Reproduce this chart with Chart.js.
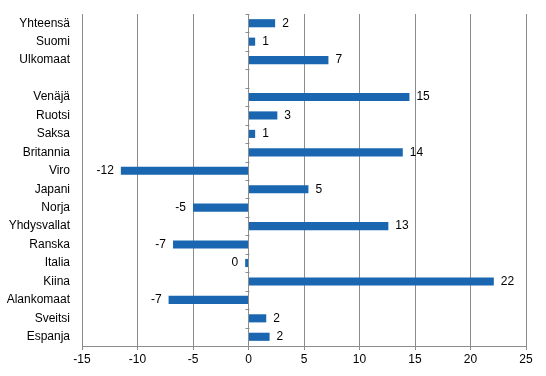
<!DOCTYPE html>
<html>
<head>
<meta charset="utf-8">
<script src="https://cdn.jsdelivr.net/npm/chart.js@4/dist/chart.umd.min.js"></script>
<style>
  html, body { margin: 0; padding: 0; background: #fff; }
  #wrap { width: 546px; height: 376px; }
</style>
</head>
<body>
<div id="wrap"><canvas id="muutos"></canvas></div>
<script>
// categories, top to bottom (empty row separates the totals from the countries)
var maat = ['Yhteensä', 'Suomi', 'Ulkomaat', '', 'Venäjä', 'Ruotsi', 'Saksa', 'Britannia', 'Viro',
  'Japani', 'Norja', 'Yhdysvallat', 'Ranska', 'Italia', 'Kiina', 'Alankomaat', 'Sveitsi', 'Espanja'];
// change, % (bar lengths)
var muutos = [2.4, 0.6, 7.2, null, 14.5, 2.6, 0.6, 13.9, -11.5,
  5.4, -5.0, 12.6, -6.8, -0.3, 22.1, -7.2, 1.6, 1.9];
// value labels as printed next to the bars
var merkit = ['2', '1', '7', '', '15', '3', '1', '14', '-12',
  '5', '-5', '13', '-7', '0', '22', '-7', '2', '2'];
var xTicks = { min: -15, max: 25, step: 5 };

var gridGray = '#8c8c8c';

// value labels beside the bar ends
var arvoMerkit = {
  id: 'arvoMerkit',
  afterDatasetsDraw: function(chart) {
    var ctx = chart.ctx;
    var meta = chart.getDatasetMeta(0);
    ctx.save();
    ctx.font = '12px "Liberation Sans", Arial, sans-serif';
    ctx.fillStyle = '#000';
    ctx.textBaseline = 'middle';
    meta.data.forEach(function(bar, i) {
      var v = muutos[i];
      if (v === null) return;
      if (v >= 0) {
        ctx.textAlign = 'left';
        ctx.fillText(merkit[i], bar.x + 7, bar.y);
      } else {
        ctx.textAlign = 'right';
        ctx.fillText(merkit[i], bar.x - 7, bar.y);
      }
    });
    ctx.restore();
  }
};

// little tick marks on the zero axis between categories
var nollaAkseli = {
  id: 'nollaAkseli',
  afterDraw: function(chart) {
    var ctx = chart.ctx;
    var x0 = Math.round(chart.scales.x.getPixelForValue(0)) + 0.5;
    var ys = chart.scales.y;
    ctx.save();
    ctx.strokeStyle = gridGray;
    ctx.lineWidth = 1;
    ctx.beginPath();
    for (var i = 0; i <= maat.length; i++) {
      var y = Math.round(ys.getPixelForValue(i - 0.5)) + 0.5;
      ctx.moveTo(x0 - 4, y);
      ctx.lineTo(x0, y);
    }
    ctx.stroke();
    ctx.restore();
  }
};

Chart.defaults.font.family = '"Liberation Sans", Arial, sans-serif';
Chart.defaults.font.size = 12;
Chart.defaults.color = '#000';

new Chart('muutos', {
  type: 'bar',
  data: {
    labels: maat,
    datasets: [{
      data: muutos,
      backgroundColor: '#1b66b1',
      borderWidth: 0,
      categoryPercentage: 1,
      barPercentage: 0.44
    }]
  },
  options: {
    indexAxis: 'y',
    responsive: true,
    maintainAspectRatio: false,
    animation: false,
    layout: { padding: { top: 14, right: 20, left: 0, bottom: 0 } },
    plugins: {
      legend: { display: false },
      tooltip: { enabled: false }
    },
    scales: {
      x: {
        min: xTicks.min,
        max: xTicks.max,
        ticks: { stepSize: xTicks.step, padding: 2 },
        grid: { color: gridGray, tickLength: 4, tickColor: gridGray },
        border: { color: gridGray },
        afterFit: function(scale) { scale.height = 30; }
      },
      y: {
        grid: { display: false },
        border: { display: false },
        ticks: { padding: 4, autoSkip: false },
        afterFit: function(scale) { scale.width = 82; }
      }
    }
  },
  plugins: [arvoMerkit, nollaAkseli]
});
</script>
</body>
</html>
